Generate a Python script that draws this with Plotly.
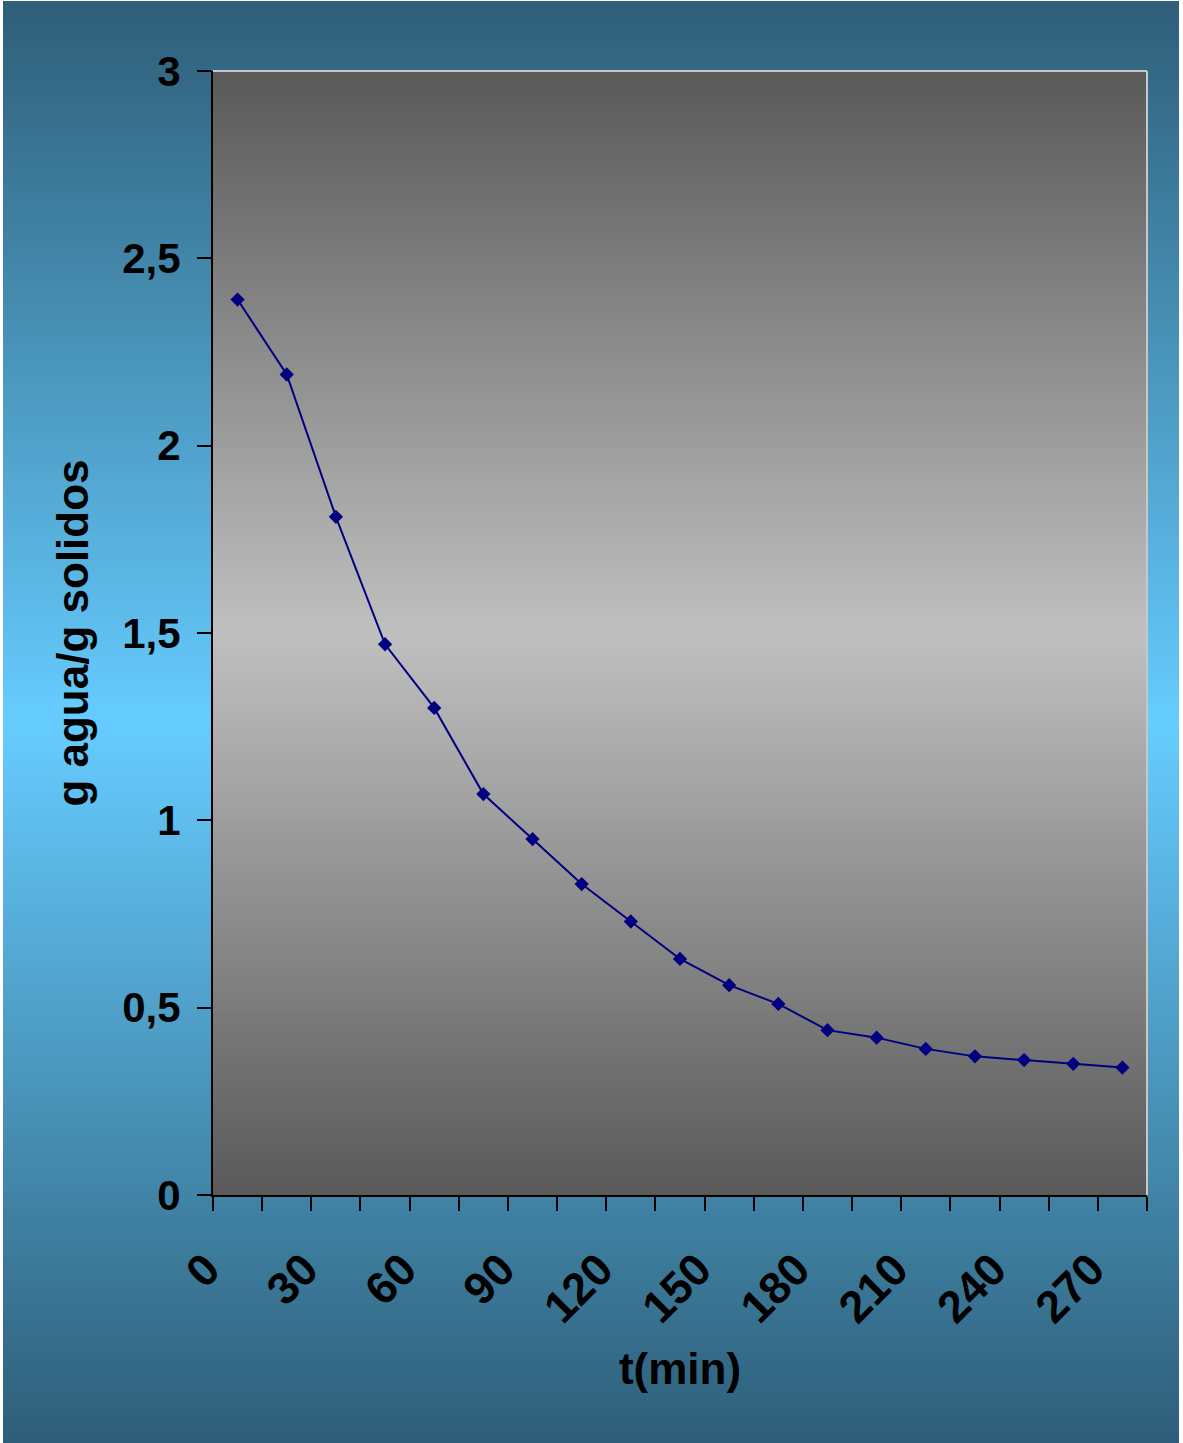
import plotly.graph_objects as go

# Drying curve: moisture content (g water / g dry solids) versus time
t_min = [0, 15, 30, 45, 60, 75, 90, 105, 120, 135, 150, 165, 180, 195, 210, 225, 240, 255, 270]
moisture = [2.39, 2.19, 1.81, 1.47, 1.30, 1.07, 0.95, 0.83, 0.73, 0.63, 0.56, 0.51,
            0.44, 0.42, 0.39, 0.37, 0.36, 0.35, 0.34]

x_tick_vals = [0, 30, 60, 90, 120, 150, 180, 210, 240, 270]
x_tick_text = ["0", "30", "60", "90", "120", "150", "180", "210", "240", "270"]
y_tick_vals = [0, 0.5, 1, 1.5, 2, 2.5, 3]
y_tick_text = ["0", "0,5", "1", "1,5", "2", "2,5", "3"]

W, H = 1183, 1443
ML, MR, MT, MB = 213, 36, 71, 248
PW, PH = W - ML - MR, H - MT - MB

FONT = "Liberation Sans, Arial, sans-serif"


def px_x(px):
    return (px - ML) / PW


def px_y(py):
    return (H - MB - py) / PH


def mix(c0, c1, f):
    return "rgb(%d,%d,%d)" % tuple(round(a + (b - a) * f) for a, b in zip(c0, c1))


shapes = []

# Outer background: dark teal at top and bottom, light sky blue in the middle
edge_bg, mid_bg = (46, 94, 120), (102, 204, 255)
bg_top, bg_bot, bg_mid = 1, H, H / 2
n_bg = 240
step = (bg_bot - bg_top) / n_bg
for i in range(n_bg):
    a = bg_top + i * step
    b = a + step + 1 if i < n_bg - 1 else bg_bot
    c = (a + a + step) / 2
    f = 1 - abs(c - bg_mid) / (bg_mid - bg_top if c < bg_mid else bg_bot - bg_mid)
    shapes.append(dict(type="rect", xref="paper", yref="paper",
                       x0=px_x(3), x1=px_x(1179), y0=px_y(min(b, bg_bot)), y1=px_y(a),
                       fillcolor=mix(edge_bg, mid_bg, max(0, min(1, f))),
                       line=dict(width=0), layer="below"))

# Plot area: dark grey at top and bottom, light grey in the middle
edge_pa, mid_pa = (89, 89, 89), (192, 192, 192)
pa_top, pa_bot = MT, H - MB
pa_mid = (pa_top + pa_bot) / 2
n_pa = 200
step = (pa_bot - pa_top) / n_pa
for i in range(n_pa):
    a = pa_top + i * step
    b = min(a + step + 1, pa_bot)
    c = a + step / 2
    f = 1 - abs(c - pa_mid) / (pa_mid - pa_top)
    shapes.append(dict(type="rect", xref="paper", yref="paper",
                       x0=0, x1=1, y0=px_y(b), y1=px_y(a),
                       fillcolor=mix(edge_pa, mid_pa, max(0, min(1, f))),
                       line=dict(width=0), layer="below"))

# Light grey frame on the top and right sides of the plot area
shapes.append(dict(type="line", xref="paper", yref="paper", x0=0, x1=1, y0=1, y1=1,
                   line=dict(color="#c8c8c8", width=2), layer="below"))
shapes.append(dict(type="line", xref="paper", yref="paper", x0=1, x1=1, y0=0, y1=1,
                   line=dict(color="#c8c8c8", width=2), layer="below"))

fig = go.Figure()
fig.add_trace(go.Scatter(
    x=t_min, y=moisture, mode="lines+markers",
    line=dict(color="#000080", width=2),
    marker=dict(symbol="diamond", size=11, color="#000080"),
    showlegend=False,
))

fig.update_layout(
    width=W, height=H,
    margin=dict(l=ML, r=MR, t=MT, b=MB, autoexpand=False),
    paper_bgcolor="white",
    plot_bgcolor="rgba(0,0,0,0)",
    shapes=shapes,
    font=dict(family=FONT, color="black"),
    xaxis=dict(
        range=[-7.5, 277.5], showgrid=False, zeroline=False,
        showline=True, linecolor="black", linewidth=2,
        tickmode="array", tickvals=x_tick_vals, ticktext=x_tick_text,
        ticks="", tickangle=-45,
        tickfont=dict(family=FONT, size=45, weight="bold", color="black"),
        ticklabelstandoff=28, ticklabelshift=-31,
        minor=dict(ticks="outside", tick0=-7.5, dtick=15, ticklen=14, tickwidth=2,
                   tickcolor="black", showgrid=False),
        title=dict(text="t(min)", font=dict(family=FONT, size=44, weight="bold"), standoff=22),
        automargin=False,
    ),
    yaxis=dict(
        range=[0, 3], showgrid=False, zeroline=False,
        showline=True, linecolor="black", linewidth=2,
        tickmode="array", tickvals=y_tick_vals, ticktext=y_tick_text,
        ticks="outside", ticklen=14, tickwidth=2, tickcolor="black",
        tickfont=dict(family=FONT, size=42, weight="bold", color="black"),
        ticklabelstandoff=8,
        title=dict(text="g agua/g solidos", font=dict(family=FONT, size=44, weight="bold"),
                   standoff=20),
        automargin=False,
    ),
)

fig.write_html("out.html")
